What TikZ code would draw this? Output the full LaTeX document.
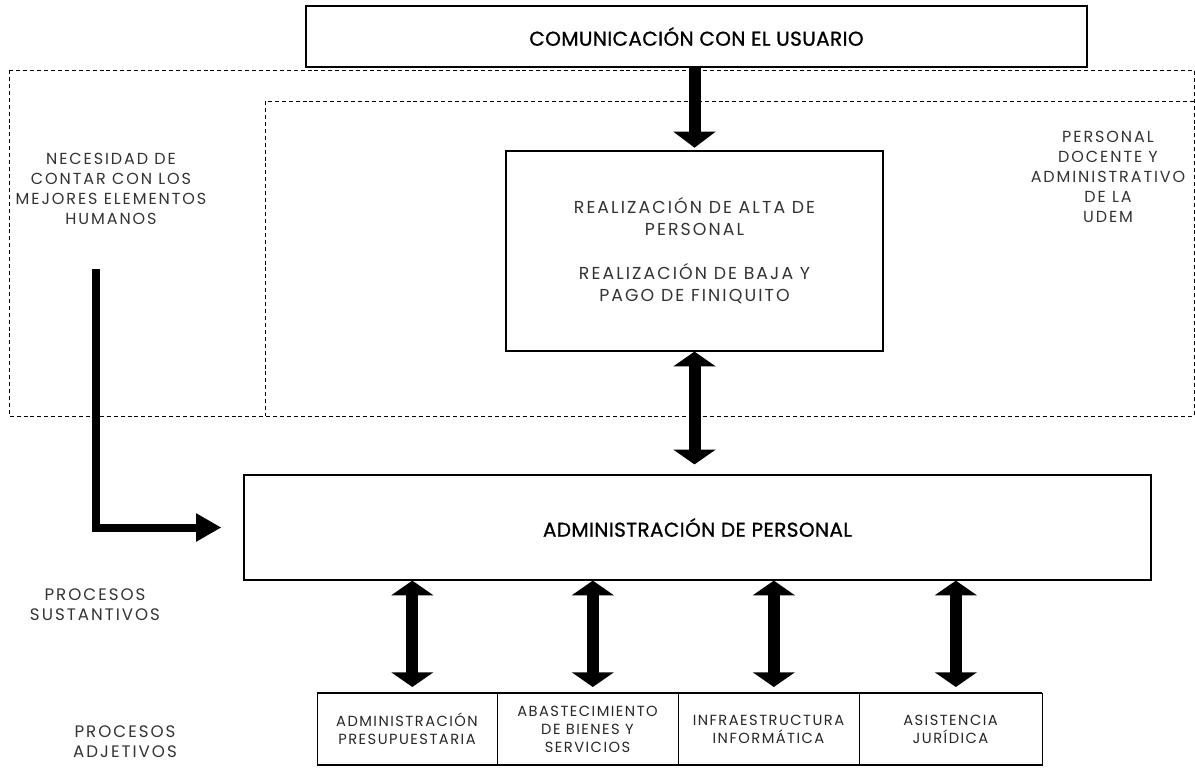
\documentclass[tikz,border=0pt]{standalone}
\usepackage{fontspec}
\setmainfont{Poppins}
\newfontfamily\thinfont{Poppins}[LetterSpace=12]
\newfontfamily\cellfont{Poppins}[LetterSpace=10]
\newfontfamily\titlefont{Poppins}[LetterSpace=2,FakeBold=1]
\usetikzlibrary{arrows.meta,positioning,calc}

\begin{document}
\begin{tikzpicture}[x=0.75pt,y=-0.75pt,
  box/.style={draw,line width=0.9pt,align=center,inner sep=0pt},
  title/.style={font=\titlefont\fontsize{15}{17}\selectfont},
  cell/.style={draw,line width=0.7pt,align=center,inner sep=0pt,outer sep=0pt,
               minimum height=54pt,font=\cellfont\fontsize{11}{13.5}\selectfont,text=black!85},
  note/.style={align=center,font=\thinfont\fontsize{12}{15}\selectfont,text=black!80},
  zone/.style={dash pattern=on 3pt off 2.2pt,line width=0.6pt},
  bigarr/.style={line width=9pt,-{Triangle[width=31pt,length=12pt]}},
  dblarr/.style={line width=9pt,{Triangle[width=31pt,length=11pt]}-{Triangle[width=31pt,length=11pt]}},
  larr/.style={line width=6pt,-{Triangle[width=20pt,length=19pt]}}]
\useasboundingbox (0,0) rectangle (1195,767);
\draw[zone] (9,70) rectangle (1194,416);
\draw[zone] (1194,101) -- (265,101) -- (265,416);
\node[box,title,fill=white,minimum width=585.75pt,minimum height=45.75pt] (usuario) at (696.5,36.5) {COMUNICACIÓN CON EL USUARIO};
\node[box,minimum width=282.75pt,minimum height=150pt,font=\thinfont\fontsize{13}{16.5}\selectfont,text=black!80] (realiz) at (694.5,251)
  {REALIZACIÓN DE ALTA DE\\PERSONAL\\[16.5pt]REALIZACIÓN DE BAJA Y\\PAGO DE FINIQUITO};
\node[box,title,minimum width=680.25pt,minimum height=78.75pt] (admin) at (697.5,527.5) {ADMINISTRACIÓN DE PERSONAL};
\node[cell,minimum width=135pt] (presup) at (407,729) {ADMINISTRACIÓN\\PRESUPUESTARIA};
\node[cell,minimum width=135.75pt,right=0pt of presup] (abast) {ABASTECIMIENTO\\DE BIENES Y\\SERVICIOS};
\node[cell,minimum width=135.75pt,right=0pt of abast] (infra) {INFRAESTRUCTURA\\INFORMÁTICA};
\node[cell,minimum width=137.25pt,right=0pt of infra] (juri) {ASISTENCIA\\JURÍDICA};
\draw[line width=2.2pt] (presup.north west) -- (juri.north east);
\draw[line width=2pt] (presup.south west) -- (juri.south east);
\node[note] (necesidad) at (111,189) {NECESIDAD DE\\CONTAR CON LOS\\MEJORES ELEMENTOS\\HUMANOS};
\node[note] (docente) at (1108,177) {PERSONAL\\DOCENTE Y\\ADMINISTRATIVO\\DE LA\\UDEM};
\node[note,font=\thinfont\fontsize{12.5}{15}\selectfont] (sustantivos) at (95,605) {PROCESOS\\SUSTANTIVOS};
\node[note,font=\thinfont\fontsize{12.5}{15}\selectfont] (adjetivos) at (125,742) {PROCESOS\\ADJETIVOS};
\coordinate (necIn) at (96,269);
\draw[bigarr,shorten >=2pt] (realiz.north |- usuario.south) -- (realiz.north);
\draw[dblarr,shorten >=7.5pt] (realiz.south) -- (realiz.south |- admin.north);
\foreach \c in {presup,abast,infra,juri}
  \draw[dblarr,shorten >=4.5pt] ([xshift=4pt]\c.north |- admin.south) -- ([xshift=4pt]\c.north);
\draw[larr,shorten >=16.5pt] (necIn) |- (admin.west);
\end{tikzpicture}
\end{document}
